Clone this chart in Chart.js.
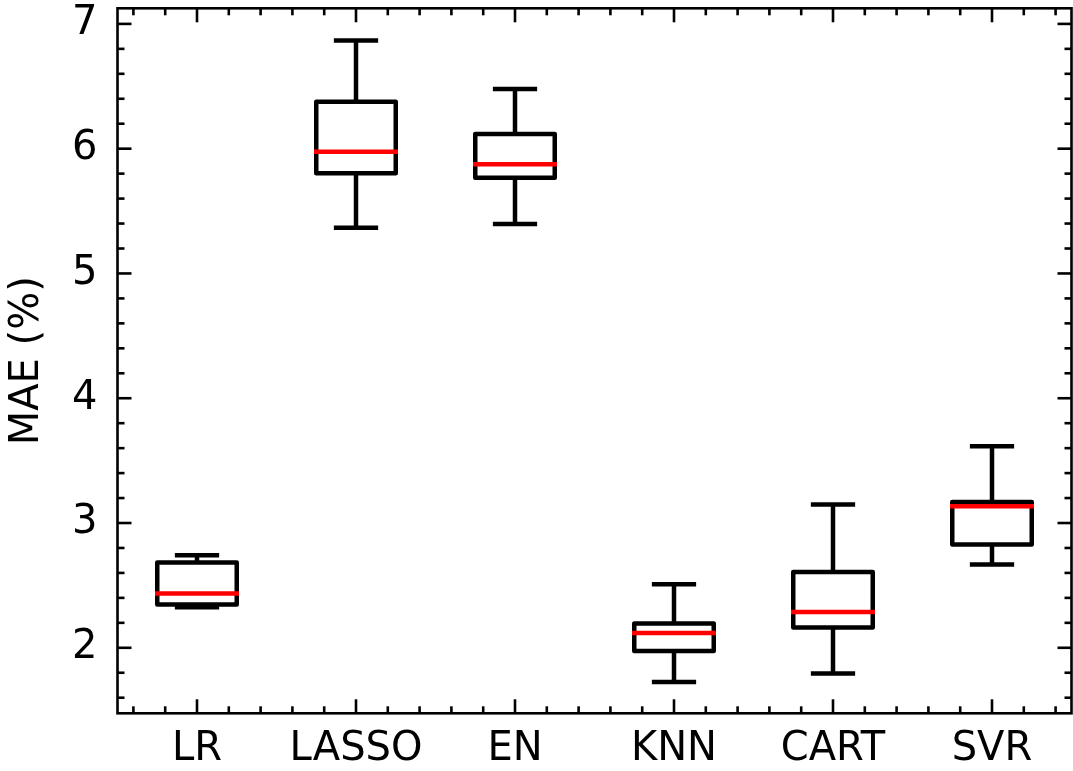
<!DOCTYPE html>
<html><head><meta charset="utf-8">
<script src="https://cdn.jsdelivr.net/npm/chart.js@4/dist/chart.umd.min.js"></script>
<style>html,body{margin:0;padding:0;background:#fff;overflow:hidden;}</style>
</head><body>
<canvas id="c" width="1073" height="771" style="display:block;width:1073px;height:771px;"></canvas>
<script>
// ---- data ----
const categories = ['LR', 'LASSO', 'EN', 'KNN', 'CART', 'SVR'];
const whiskerLow  = [2.325, 5.367, 5.396, 1.726, 1.793, 2.667];
const q1          = [2.346, 5.803, 5.767, 1.974, 2.162, 2.828];
const medians     = [2.435, 5.976, 5.875, 2.119, 2.287, 3.135];
const q3          = [2.683, 6.377, 6.118, 2.194, 2.608, 3.169];
const whiskerHigh = [2.742, 6.866, 6.479, 2.509, 3.148, 3.616];
const yTicks = [2, 3, 4, 5, 6, 7];
const yLabel = 'MAE (%)';

const FONT = 'DejaVu Sans';

const boxPlugin = {
  id: 'boxes',
  afterDatasetsDraw(chart) {
    const {ctx, scales: {x, y}} = chart;
    const line = (x1, y1, x2, y2) => { ctx.beginPath(); ctx.moveTo(x1, y1); ctx.lineTo(x2, y2); ctx.stroke(); };
    ctx.save();
    ctx.lineWidth = 4.5;
    categories.forEach((c, i) => {
      const p = i + 1;
      const cx = x.getPixelForValue(p);
      const hw = x.getPixelForValue(p + 0.25) - cx;
      const cw = x.getPixelForValue(p + 0.125) - cx;
      const yLo = y.getPixelForValue(whiskerLow[i]);
      const yQ1 = y.getPixelForValue(q1[i]);
      const yMed = y.getPixelForValue(medians[i]);
      const yQ3 = y.getPixelForValue(q3[i]);
      const yHi = y.getPixelForValue(whiskerHigh[i]);
      ctx.strokeStyle = '#000';
      ctx.lineCap = 'butt';
      line(cx, yLo, cx, yQ1);
      line(cx, yQ3, cx, yHi);
      ctx.lineCap = 'square';
      line(cx - cw, yLo, cx + cw, yLo);
      line(cx - cw, yHi, cx + cw, yHi);
      ctx.lineJoin = 'round';
      ctx.beginPath();
      ctx.rect(cx - hw, yQ3, 2 * hw, yQ1 - yQ3);
      ctx.stroke();
      ctx.strokeStyle = '#ff0000';
      line(cx - hw, yMed, cx + hw, yMed);
    });
    ctx.restore();
  }
};

const framePlugin = {
  id: 'frame',
  afterDraw(chart) {
    const {ctx, chartArea: a, scales: {x, y}} = chart;
    const line = (x1, y1, x2, y2) => { ctx.beginPath(); ctx.moveTo(x1, y1); ctx.lineTo(x2, y2); ctx.stroke(); };
    ctx.save();
    ctx.strokeStyle = '#000';
    ctx.lineWidth = 2.6;
    ctx.lineCap = 'butt';
    const MAJ = 14, MIN = 7;
    for (let k = Math.ceil(y.min * 5); k <= Math.floor(y.max * 5); k++) {
      const v = k / 5;
      const py = y.getPixelForValue(v);
      const len = (k % 5 === 0) ? MAJ : MIN;
      line(a.left, py, a.left + len, py);
      line(a.right, py, a.right - len, py);
    }
    for (let k = Math.ceil(x.min * 5); k <= Math.floor(x.max * 5); k++) {
      const v = k / 5;
      const px = x.getPixelForValue(v);
      const len = (k % 5 === 0) ? MAJ : MIN;
      line(px, a.bottom, px, a.bottom - len);
      line(px, a.top, px, a.top + len);
    }
    ctx.lineJoin = 'miter';
    ctx.strokeRect(a.left, a.top, a.right - a.left, a.bottom - a.top);
    ctx.restore();
  }
};

new Chart(document.getElementById('c'), {
  type: 'scatter',
  data: {
    datasets: [{
      label: 'median',
      data: medians.map((m, i) => ({x: i + 1, y: m})),
      pointRadius: 0,
      showLine: false
    }]
  },
  options: {
    responsive: false,
    animation: false,
    devicePixelRatio: 1,
    layout: {padding: {top: 8.3, right: 1.5, left: 0, bottom: 0}},
    plugins: {legend: {display: false}, tooltip: {enabled: false}},
    scales: {
      x: {
        type: 'linear', min: 0.5, max: 6.5,
        afterBuildTicks: s => { s.ticks = categories.map((c, i) => ({value: i + 1})); },
        afterFit: s => { s.height = 57.7; s.paddingLeft = 0; s.paddingRight = 0; },
        ticks: {
          autoSkip: false, maxRotation: 0, minRotation: 0,
          padding: 12, color: '#000',
          font: {family: FONT, size: 40},
          callback: v => categories[v - 1]
        },
        grid: {display: false, drawTicks: false},
        border: {display: false}
      },
      y: {
        type: 'linear', min: 1.475, max: 7.125,
        afterBuildTicks: s => { s.ticks = yTicks.map(v => ({value: v})); },
        afterFit: s => { s.width = 117.5; s.paddingTop = 0; s.paddingBottom = 0; },
        ticks: {
          padding: 20, color: '#000',
          font: {family: FONT, size: 40},
          callback: v => String(v)
        },
        title: {display: true, text: yLabel, color: '#000', font: {family: FONT, size: 40}, padding: {top: 4, bottom: 0}},
        grid: {display: false, drawTicks: false},
        border: {display: false}
      }
    }
  },
  plugins: [boxPlugin, framePlugin]
});
</script>
</body></html>
